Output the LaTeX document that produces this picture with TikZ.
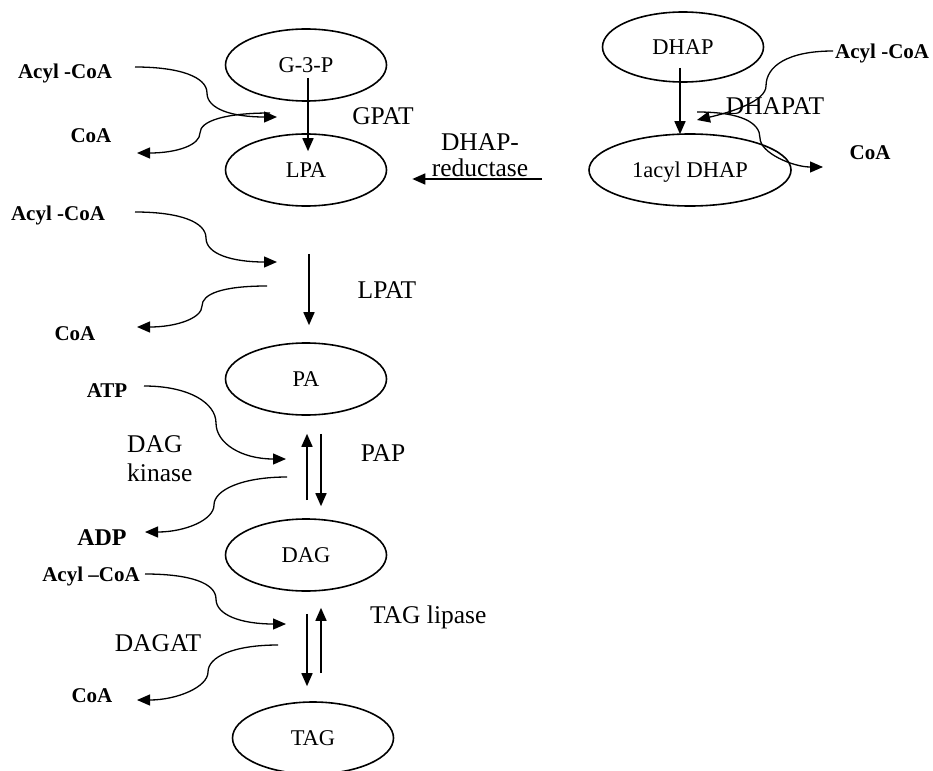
\documentclass[tikz,border=0pt]{standalone}
\usepackage{fontspec}
\setmainfont{Liberation Serif}
\usetikzlibrary{shapes.geometric,arrows.meta,calc}

\begin{document}
\begin{tikzpicture}[x=1pt,y=-1pt,
  pool/.style={ellipse,draw,line width=1.6pt,minimum width=161pt,minimum height=72pt,
    inner sep=0pt,text height=15pt,text depth=0pt,font=\fontsize{22.5}{27}\selectfont},
  enzyme/.style={inner sep=0pt,text height=17pt,text depth=0pt,font=\fontsize{25.5}{30}\selectfont},
  cofactor/.style={inner sep=0pt,text height=14pt,text depth=0pt,font=\bfseries\fontsize{21}{25}\selectfont},
  arr/.style={line width=1.6pt,-{Triangle[length=13pt,width=11pt]}},
  side/.style={line width=1.3pt,-{Triangle[length=13pt,width=11pt]}}
]
\useasboundingbox (0,0) rectangle (933,770);

% metabolite pools
\node[pool] (g3p) at (306,65) {G-3-P};
\node[pool] (lpa) at (306,170) {LPA};
\node[pool] (pa) at (306,379) {PA};
\node[pool] (dag) at (306,555) {DAG};
\node[pool] (tag) at (313,738) {TAG};
\node[pool,minimum height=70pt] (dhap) at (683,47) {DHAP};
\node[pool,minimum width=202pt] (adhap) at (690,170) {1acyl DHAP};

% enzymes
\node[enzyme] (gpat) at (383,116) {GPAT};
\node[enzyme] (red1) at (480,142) {DHAP-};
\node[enzyme] (red2) at (480,168) {reductase};
\node[enzyme] (dhapat) at (775,106) {DHAPAT};
\node[enzyme] (lpat) at (387,290) {LPAT};
\node[enzyme] (pap) at (383,453) {PAP};
\node[enzyme,anchor=west] (kin1) at (127,444) {DAG};
\node[enzyme,anchor=west] (kin2) at (127,473) {kinase};
\node[enzyme] (dagat) at (158,643) {DAGAT};
\node[enzyme,anchor=west] (lipase) at (370,615) {TAG lipase};

% co-substrates and by-products
\node[cofactor] (acyl1) at (65,72) {Acyl -CoA};
\node[cofactor] (coa1) at (91,136) {CoA};
\node[cofactor] (acyl2) at (58,213) {Acyl -CoA};
\node[cofactor] (coa2) at (75,333) {CoA};
\node[cofactor] (atp) at (107,390) {ATP};
\node[cofactor,text height=16pt,font=\bfseries\fontsize{24}{28}\selectfont] (adp) at (102,537) {ADP};
\node[cofactor] (acyl3) at (91,574) {Acyl --CoA};
\node[cofactor] (coa3) at (92,695) {CoA};
\node[cofactor,anchor=west] (acylr) at (835,52) {Acyl -CoA};
\node[cofactor] (coar) at (870,153) {CoA};

% main conversions
\draw[arr] ($(g3p.center)+(2,13)$) -- ($(lpa.north)+(2,18)$);
\draw[arr] ($(dhap.center)+(-3,21)$) -- ($(adhap.north)+(-10,1)$);
\draw[arr] ($(adhap.west)+(-46,9)$) -- ($(lpa.east)+(25,9)$);
\draw[arr] ($(lpa.south)+(3,47)$) -- ($(pa.north)+(3,-17)$);
\draw[arr] ($(dag.north)+(1,-18)$) -- ($(pa.south)+(1,18)$);
\draw[arr] ($(pa.south)+(15,18)$) -- ($(dag.north)+(15,-12)$);
\draw[arr] ($(dag.south)+(1,22)$) -- ($(tag.north)+(-6,-15)$);
\draw[arr] ($(tag.north)+(8,-28)$) -- ($(dag.south)+(15,16)$);

% side-reaction waves
\coordinate (a1s) at (135,67);  \coordinate (a1m) at (207,93);  \coordinate (a1e) at (277,117);
\coordinate (c1s) at (270,113); \coordinate (c1m) at (200,133); \coordinate (c1e) at (137,153);
\coordinate (a2s) at (135,212); \coordinate (a2m) at (206,238); \coordinate (a2e) at (277,262);
\coordinate (c2s) at (267,286); \coordinate (c2m) at (202,306); \coordinate (c2e) at (137,327);
\coordinate (ts)  at (144,386); \coordinate (tm)  at (216,423); \coordinate (te)  at (286,459);
\coordinate (ds)  at (287,477); \coordinate (dm)  at (214,505); \coordinate (de)  at (145,532);
\coordinate (a3s) at (145,574); \coordinate (a3m) at (216,599); \coordinate (a3e) at (286,624);
\coordinate (c3s) at (278,645); \coordinate (c3m) at (208,672); \coordinate (c3e) at (137,700);
\coordinate (ars) at (833,51);  \coordinate (arm) at (766,86);  \coordinate (are) at (697,120);
\coordinate (crs) at (697,112); \coordinate (crm) at (760,138); \coordinate (cre) at (823,167);

\draw[side] (a1s) .. controls +(45,0) and +(0,-16) .. (a1m) .. controls +(0,16) and +(-45,0) .. (a1e);
\draw[side] (c1s) .. controls +(-45,0) and +(0,-12) .. (c1m) .. controls +(0,12) and +(40,0) .. (c1e);
\draw[side] (a2s) .. controls +(45,0) and +(0,-16) .. (a2m) .. controls +(0,16) and +(-45,0) .. (a2e);
\draw[side] (c2s) .. controls +(-45,0) and +(0,-12) .. (c2m) .. controls +(0,12) and +(40,0) .. (c2e);
\draw[side] (ts) .. controls +(45,0) and +(0,-20) .. (tm) .. controls +(0,20) and +(-45,0) .. (te);
\draw[side] (ds) .. controls +(-45,0) and +(0,-15) .. (dm) .. controls +(0,15) and +(40,0) .. (de);
\draw[side] (a3s) .. controls +(45,0) and +(0,-16) .. (a3m) .. controls +(0,16) and +(-45,0) .. (a3e);
\draw[side] (c3s) .. controls +(-45,0) and +(0,-15) .. (c3m) .. controls +(0,15) and +(40,0) .. (c3e);
\draw[side] (ars) .. controls +(-45,0) and +(0,-20) .. (arm) .. controls +(0,15) and +(35,-8) .. (are);
\draw[side] (crs) .. controls +(45,0) and +(0,-15) .. (crm) .. controls +(0,15) and +(-30,0) .. (cre);

\end{tikzpicture}
\end{document}
